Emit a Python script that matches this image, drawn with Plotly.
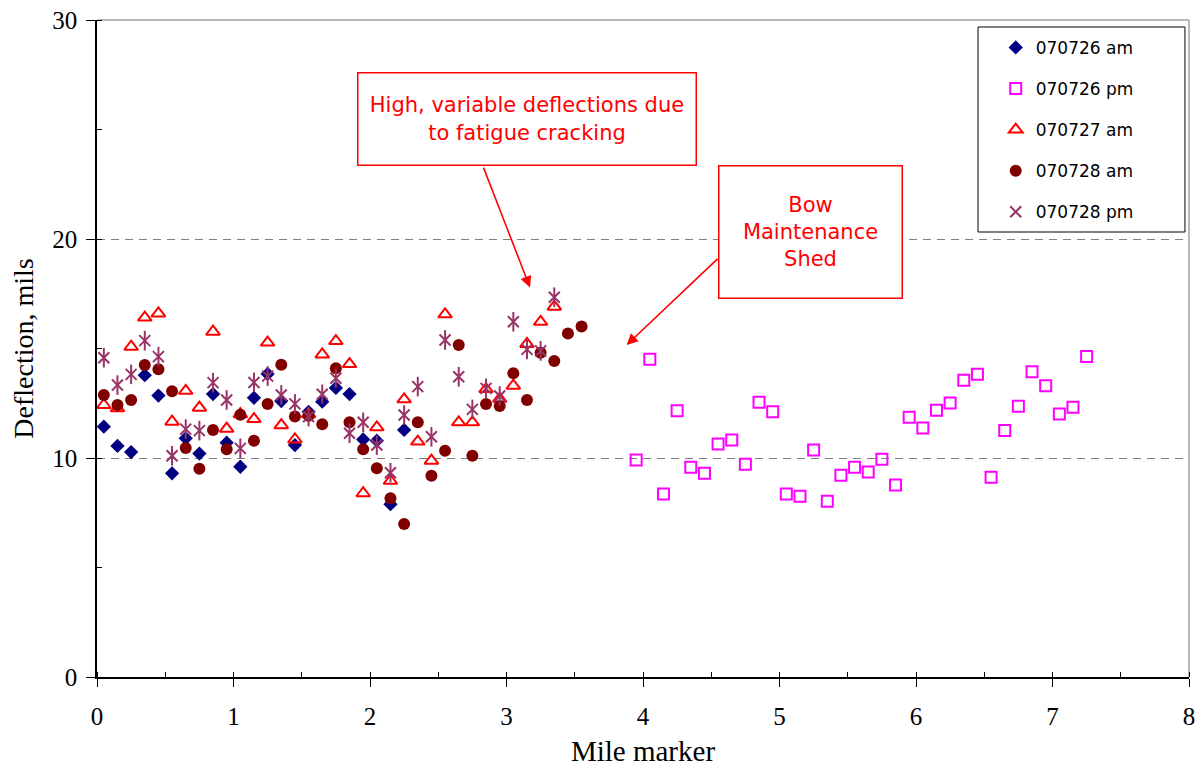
import plotly.graph_objects as go

# Mile marker positions
x_west = [0.05, 0.15, 0.25, 0.35, 0.45, 0.55, 0.65, 0.75, 0.85, 0.95,
          1.05, 1.15, 1.25, 1.35, 1.45, 1.55, 1.65, 1.75, 1.85, 1.95,
          2.05, 2.15, 2.25, 2.35, 2.45, 2.55, 2.65, 2.75, 2.85, 2.95,
          3.05, 3.15, 3.25, 3.35, 3.45, 3.55]
x_east = [3.95, 4.05, 4.15, 4.25, 4.35, 4.45, 4.55, 4.65, 4.75, 4.85,
          4.95, 5.05, 5.15, 5.25, 5.35, 5.45, 5.55, 5.65, 5.75, 5.85,
          5.95, 6.05, 6.15, 6.25, 6.35, 6.45, 6.55, 6.65, 6.75, 6.85,
          6.95, 7.05, 7.15, 7.25]

# Deflection, mils
am_070726 = [11.43, 10.55, 10.27, 13.78, 12.85, 9.30, 10.90, 10.20, 12.92, 10.70,
             9.60, 12.75, 13.84, 12.60, 10.59, 12.11, 12.57, 13.20, 12.92, 10.85,
             10.79, 7.89, 11.28]
pm_070726 = [9.91, 14.51, 8.36, 12.16, 9.58, 9.30, 10.64, 10.82, 9.71, 12.54,
             12.11, 8.36, 8.25, 10.37, 8.02, 9.21, 9.58, 9.36, 9.94, 8.77,
             11.86, 11.37, 12.18, 12.51, 13.55, 13.82, 9.12, 11.26, 12.36, 13.94,
             13.30, 12.01, 12.32, 14.63]
am_070727 = [12.42, 12.27, 15.08, 16.41, 16.60, 11.66, 13.07, 12.30, 15.77, 11.34,
             12.00, 11.78, 15.27, 11.50, 10.85, 12.00, 14.73, 15.34, 14.29, 8.39,
             11.40, 8.96, 12.68, 10.75, 9.88, 16.56, 11.63, 11.63, 13.15, 12.70,
             13.30, 15.21, 16.22, 16.91]
am_070728 = [12.88, 12.42, 12.65, 14.25, 14.05, 13.05, 10.46, 9.51, 11.28, 10.40,
             11.98, 10.79, 12.47, 14.26, 11.89, 11.93, 11.54, 14.10, 11.63, 10.40,
             9.53, 8.16, 6.99, 11.63, 9.19, 10.33, 15.16, 10.10, 12.47, 12.37,
             13.87, 12.65, 14.81, 14.43, 15.69, 16.00]
pm_070728 = [14.58, 13.33, 13.82, 15.36, 14.63, 10.10, 11.32, 11.25, 13.44, 12.65,
             10.44, 13.45, 13.74, 12.88, 12.47, 11.89, 12.91, 13.64, 11.13, 11.63,
             10.59, 9.33, 11.96, 13.26, 10.97, 15.39, 13.71, 12.22, 13.18, 12.83,
             16.22, 14.96, 14.89, 17.34]

x_ticks = [0, 1, 2, 3, 4, 5, 6, 7, 8]
y_ticks = [0, 10, 20, 30]

fig = go.Figure()

def add(xs, ys, name, symbol, color, size, lw=0, group=None, show=True):
    fig.add_trace(go.Scatter(
        x=xs[:len(ys)], y=ys, mode="markers", name=name,
        legendgroup=group or name, showlegend=show,
        marker=dict(symbol=symbol, color=color, size=size,
                    line=dict(color=color, width=lw)),
    ))

add(x_west, am_070726, "070726 am", "diamond", "#000080", 11)
add(x_east, pm_070726, "070726 pm", "square-open", "#FF00FF", 11, 2)
add(x_west, am_070727, "070727 am", "triangle-up-open", "#FF0000", 12, 2)
add(x_west, am_070728, "070728 am", "circle", "#800000", 12)
add(x_west, pm_070728, "070728 pm", "x-thin-open", "#993366", 11, 2)
add(x_west, pm_070728, "070728 pm", "line-ns-open", "#993366", 14, 2,
    group="070728 pm", show=False)

serif = "Liberation Serif"
sans = "DejaVu Sans"

fig.update_layout(
    width=1196, height=770,
    margin=dict(l=89, r=15, t=12, b=101),
    paper_bgcolor="white", plot_bgcolor="white",
    showlegend=True,
    legend=dict(
        x=0.823, y=0.985, xanchor="left", yanchor="top",
        bgcolor="rgba(0,0,0,0)", borderwidth=0,
        font=dict(family=sans, size=17, color="black"),
        traceorder="grouped", tracegroupgap=16,
    ),
    xaxis=dict(
        range=[0, 8], tickvals=x_ticks, ticktext=[str(v) for v in x_ticks],
        showgrid=False, zeroline=False, automargin=False,
        ticklabeloverflow="allow",
        showline=True, linecolor="black", linewidth=1.5,
        ticks="outside", ticklen=8, tickcolor="black",
        minor=dict(dtick=0.5, ticks="inside", ticklen=5, tickcolor="black", showgrid=False),
        tickfont=dict(family=serif, size=25, color="black"),
        ticklabelstandoff=8,
        title=dict(text="Mile marker", font=dict(family=serif, size=29, color="black"),
                   standoff=12),
    ),
    yaxis=dict(
        range=[0, 30], tickvals=y_ticks, ticktext=[str(v) for v in y_ticks],
        showgrid=True, gridcolor="#808080", griddash="8px,6px", gridwidth=1,
        zeroline=False, automargin=False,
        ticklabeloverflow="allow",
        showline=True, linecolor="black", linewidth=1.5,
        ticks="outside", ticklen=9, tickcolor="black",
        minor=dict(dtick=5, ticks="inside", ticklen=5, tickcolor="black", showgrid=False),
        tickfont=dict(family=serif, size=25, color="black"),
        ticklabelstandoff=4,
        title=dict(text="Deflection, mils", font=dict(family=serif, size=28, color="black"),
                   standoff=12),
    ),
)

# grey plot-area border on top and right
fig.add_shape(type="line", xref="paper", yref="paper", x0=0, x1=1, y0=1, y1=1,
              line=dict(color="#A0A0A0", width=1.5), layer="below")
fig.add_shape(type="line", xref="paper", yref="paper", x0=1, x1=1, y0=0, y1=1,
              line=dict(color="#A0A0A0", width=1.5), layer="below")

# legend frame
fig.add_shape(type="rect", xref="paper", yref="paper",
              x0=0.8068, x1=0.9963, y0=0.6773, y1=0.9893,
              line=dict(color="black", width=1), fillcolor="white", layer="below")

# callout boxes
fig.add_annotation(xref="paper", yref="paper", x=0.3942, y=0.8486,
                   xanchor="center", yanchor="middle",
                   text="High, variable deflections due<br>to fatigue cracking",
                   showarrow=False, font=dict(family=sans, size=21, color="#FF0000"),
                   bgcolor="white", bordercolor="#FF0000", borderwidth=1.5, borderpad=1,
                   width=335, height=89, align="center")
fig.add_annotation(xref="paper", yref="paper", x=0.653, y=0.6773,
                   xanchor="center", yanchor="middle",
                   text="Bow<br>Maintenance<br>Shed",
                   showarrow=False, font=dict(family=sans, size=21, color="#FF0000"),
                   bgcolor="white", bordercolor="#FF0000", borderwidth=1.5, borderpad=1,
                   width=180, height=129, align="center")

# arrows
fig.add_annotation(x=3.172, y=17.79, ax=2.826, ay=23.35, xref="x", yref="y",
                   axref="x", ayref="y", text=" ", font=dict(size=1),
                   showarrow=True, arrowhead=2, arrowsize=1.4, arrowwidth=1.6,
                   arrowcolor="#FF0000", standoff=0, startstandoff=0)
fig.add_annotation(x=3.88, y=15.16, ax=4.557, ay=19.16, xref="x", yref="y",
                   axref="x", ayref="y", text=" ", font=dict(size=1),
                   showarrow=True, arrowhead=2, arrowsize=1.4, arrowwidth=1.6,
                   arrowcolor="#FF0000", standoff=0, startstandoff=0)

fig.write_html("out.html")
